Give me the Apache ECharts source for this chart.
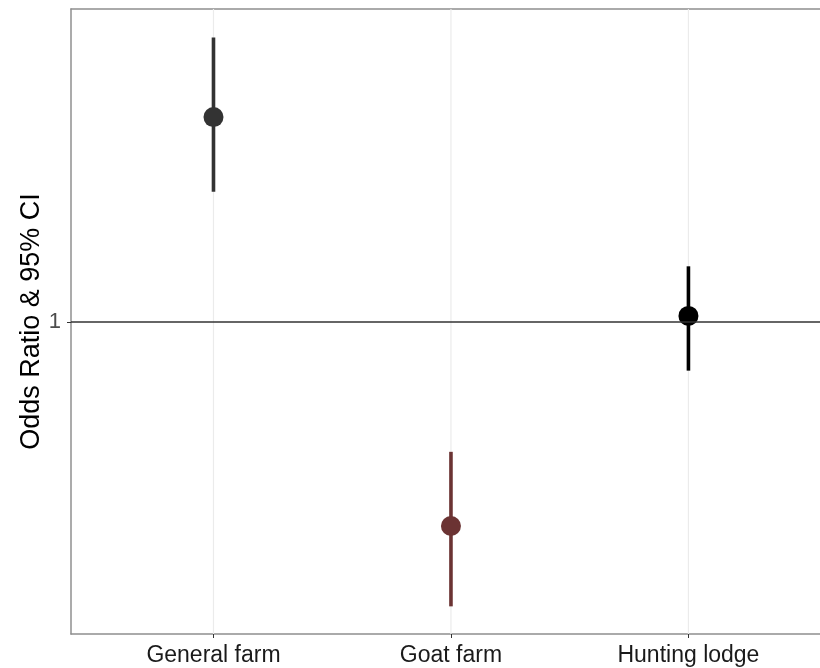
<!DOCTYPE html>
<html>
<head>
<meta charset="utf-8">
<script src="https://cdn.jsdelivr.net/npm/echarts@6/dist/echarts.min.js"></script>
<style>
html,body{margin:0;padding:0;background:#fff;}
#chart{width:820px;height:668px;}
</style>
</head>
<body>
<div id="chart"></div>
<script>
// Data
const categories = ['General farm', 'Goat farm', 'Hunting lodge'];
const oddsRatio = [2.70, 0.372, 1.03];
const ciLower = [1.88, 0.252, 0.79];
const ciUpper = [3.97, 0.533, 1.31];
const pointColors = ['#333333', '#6B3333', '#000000'];
const yTickValues = [1];
const refLine = 1;

const FONT = 'Liberation Sans, Arial, sans-serif';
const catIdx = categories.map((c, i) => i);
const X_MIN = -0.6, X_MAX = 2.554;
const BORDER = {show: true, onZero: false, lineStyle: {color: '#8f8f8f', width: 1.5}};

const seriesData = categories.map((c, i) => [i, ciLower[i], ciUpper[i], oddsRatio[i]]);

const chart = echarts.init(document.getElementById('chart'), null, {renderer: 'canvas'});
chart.setOption({
  backgroundColor: '#ffffff',
  animation: false,
  grid: {
    left: 71, top: 9, right: 0, bottom: 34,
    show: false, containLabel: false
  },
  xAxis: [{
    type: 'value',
    min: X_MIN, max: X_MAX,
    axisLine: BORDER,
    axisTick: {show: true, customValues: catIdx, length: 4, lineStyle: {color: '#333333', width: 1}},
    axisLabel: {
      customValues: catIdx,
      formatter: v => categories[Math.round(v)] || '',
      fontFamily: FONT, fontSize: 23, color: '#1a1a1a', margin: 10
    },
    splitLine: {show: false}
  }, {
    type: 'value',
    position: 'top',
    min: X_MIN, max: X_MAX,
    axisLine: BORDER,
    axisTick: {show: false},
    axisLabel: {show: false},
    splitLine: {show: false}
  }],
  yAxis: {
    type: 'log',
    logBase: 10,
    position: 'left',
    min: 0.2204, max: 4.56,
    name: 'Odds Ratio & 95% CI',
    nameLocation: 'middle',
    nameGap: 26,
    nameMoveOverlap: false,
    nameTextStyle: {fontFamily: FONT, fontSize: 27, color: '#000000'},
    axisLine: BORDER,
    axisTick: {show: true, customValues: yTickValues, length: 4, lineStyle: {color: '#333333', width: 1}},
    axisLabel: {customValues: yTickValues, fontFamily: FONT, fontSize: 22, color: '#4d4d4d', margin: 10,
      formatter: v => String(v)},
    splitLine: {show: false},
    minorTick: {show: false},
    minorSplitLine: {show: false}
  },
  series: [
    {
      type: 'custom',
      name: 'gridlines',
      silent: true,
      z: 1,
      data: catIdx.map(i => [i]),
      renderItem: function (params, api) {
        const x = api.value(0);
        const cs = params.coordSys;
        const p = api.coord([x, 1]);
        return {
          type: 'line',
          shape: {x1: p[0], y1: cs.y, x2: p[0], y2: cs.y + cs.height},
          style: {stroke: '#ebebeb', lineWidth: 1.2}
        };
      },
      markLine: {
        silent: true,
        symbol: ['none', 'none'],
        label: {show: false},
        lineStyle: {color: '#333333', width: 1.6, type: 'solid'},
        data: [{yAxis: refLine}]
      }
    },
    {
      type: 'custom',
      name: 'OR',
      z: 3,
      data: seriesData,
      renderItem: function (params, api) {
        const x = api.value(0);
        const lo = api.coord([x, api.value(1)]);
        const hi = api.coord([x, api.value(2)]);
        const pt = api.coord([x, api.value(3)]);
        const col = pointColors[params.dataIndex];
        return {
          type: 'group',
          children: [
            {type: 'line', shape: {x1: lo[0], y1: lo[1], x2: hi[0], y2: hi[1]},
             style: {stroke: col, lineWidth: 3.6}},
            {type: 'circle', shape: {cx: pt[0], cy: pt[1], r: 10},
             style: {fill: col}}
          ]
        };
      }
    }
  ]
});
</script>
</body>
</html>
